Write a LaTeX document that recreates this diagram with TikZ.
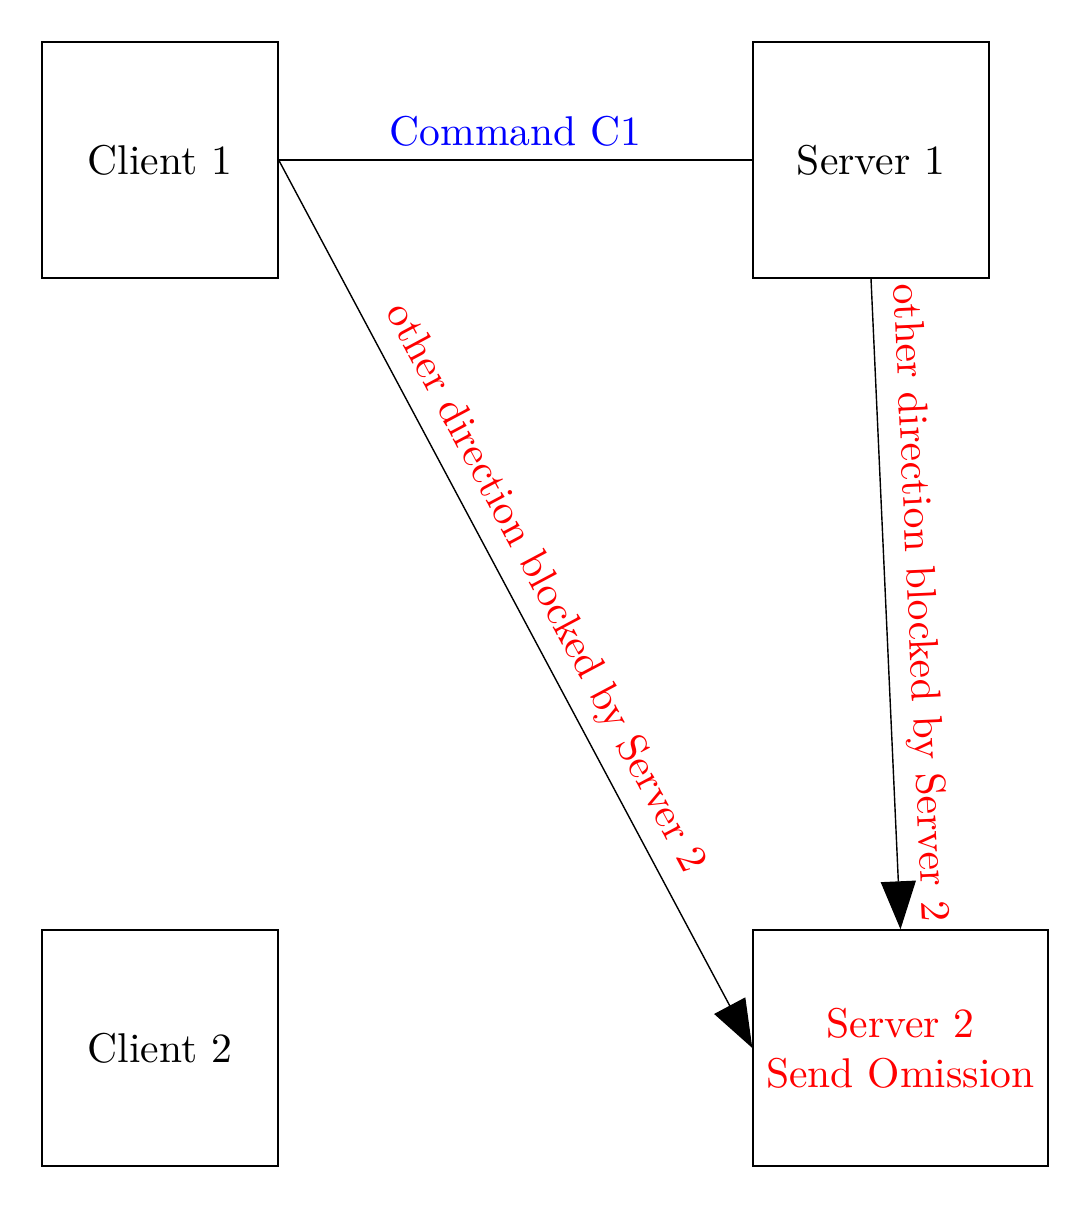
\documentclass[tikz,border=0pt]{standalone}
\usetikzlibrary{arrows.meta}
\begin{document}
\begin{tikzpicture}[x=0.25pt,y=-0.25pt,
  box/.style={draw,line width=0.35pt,inner sep=0pt,minimum width=59pt,minimum height=59pt,
    font=\fontsize{10.4}{12.5}\selectfont,align=center},
  conn/.style={line width=0.35pt},
  arr/.style={conn,-{Triangle[length=12pt,width=8.75pt]}},
  lbl/.style={font=\fontsize{10.4}{12.5}\selectfont},
]
\useasboundingbox (0,0) rectangle (1091,1209);
\node[box] (c1) at (160,160) {Client 1};
\node[box] (s1) at (871,160) {Server 1};
\node[box] (c2) at (160,1048) {Client 2};
\node[box,minimum width=73.75pt,text=red] (s2) at (900.5,1048) {Server 2\\Send Omission};
\draw[conn] (c1.east) -- node[lbl,above,text=blue] {Command C1} (s1.west);
\draw[arr] (c1.east) -- node[lbl,sloped,above,text=red] {other direction blocked by Server 2} (s2.west);
\draw[arr] (s1.south) -- node[lbl,sloped,above,text=red] {other direction blocked by Server 2} (s2.north);
\end{tikzpicture}
\end{document}
